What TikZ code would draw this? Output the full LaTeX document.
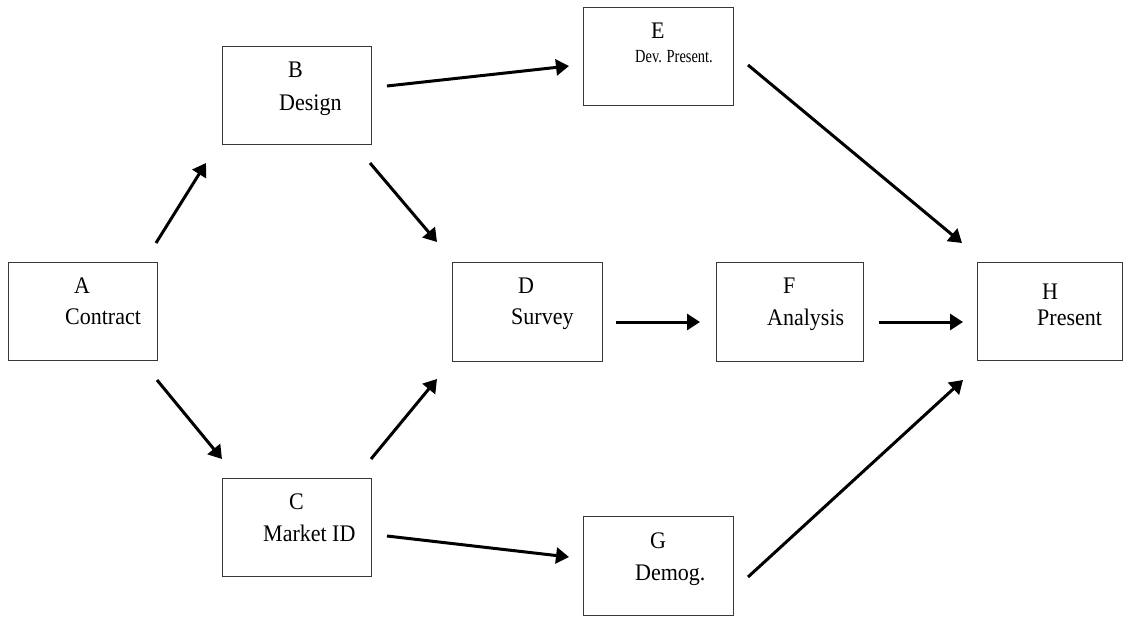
\documentclass[tikz,border=0pt]{standalone}
\usepackage{fontspec}
\setmainfont{Liberation Serif}
\usetikzlibrary{arrows.meta}
\begin{document}
\begin{tikzpicture}[x=1pt,y=-1pt,
  box/.style={draw=black!78, line width=1.4pt, fill=white, inner sep=0pt,
              anchor=north west, minimum width=149pt, minimum height=98pt},
  lbl/.style={inner sep=0pt, anchor=base west, font=\fontsize{22}{24}\selectfont},
  small/.style={inner sep=0pt, anchor=base west, font=\fontsize{18.5}{20}\selectfont},
  link/.style={line width=3pt, -{Triangle[length=13pt,width=16pt]}}
]
\useasboundingbox (0,0) rectangle (1123,616);

% activity boxes
\node[box] (A) at (8,262) {};
\node[box] (B) at (222,46) {};
\node[box] (C) at (222,478) {};
\node[box, minimum width=150pt, minimum height=99pt] (D) at (452,262) {};
\node[box, minimum width=150pt] (E) at (583,7) {};
\node[box, minimum width=147pt, minimum height=99pt] (F) at (716,262) {};
\node[box, minimum width=150pt, minimum height=99pt] (G) at (583,516) {};
\node[box, minimum width=145pt] (H) at (977,262) {};

% box texts
\newcommand{\tall}[1]{\scalebox{1}[1.08]{#1}}
\node[lbl] (Al) at (74,293) {\tall{A}};
\node[lbl] (An) at (65,324) {\tall{Contract}};
\node[lbl] (Bl) at (288,77) {\tall{B}};
\node[lbl] (Bn) at (279,110) {\tall{Design}};
\node[lbl] (Cl) at (289,509) {\tall{C}};
\node[lbl] (Cn) at (263,541) {\tall{Market ID}};
\node[lbl] (Dl) at (518,293) {\tall{D}};
\node[lbl] (Dn) at (511,324) {\tall{Survey}};
\node[lbl] (El) at (651,38) {\tall{E}};
\node[small] (En) at (635,62) {\scalebox{0.78}[1]{Dev. Present.}};
\node[lbl] (Fl) at (783,293) {\tall{F}};
\node[lbl] (Fn) at (767,325) {\tall{Analysis}};
\node[lbl] (Gl) at (650,548) {\tall{G}};
\node[lbl] (Gn) at (635,580) {\tall{Demog.}};
\node[lbl] (Hl) at (1042,299) {\tall{H}};
\node[lbl] (Hn) at (1037,325) {\tall{Present}};

% free-standing arrow ends
\coordinate (ab1) at (156,243);  \coordinate (ab2) at (206,163);
\coordinate (ac1) at (157,380);  \coordinate (ac2) at (222,459);
\coordinate (bd1) at (370,163);  \coordinate (bd2) at (437,242);
\coordinate (cd1) at (371,459);  \coordinate (cd2) at (437,379);
\coordinate (be1) at (387,86);   \coordinate (be2) at (569,66);
\coordinate (cg1) at (387,536);  \coordinate (cg2) at (569,557);
\coordinate (df1) at (616,322);  \coordinate (df2) at (700,322);
\coordinate (fh1) at (879,322);  \coordinate (fh2) at (963,322);
\coordinate (eh1) at (748,65);   \coordinate (eh2) at (962,243);
\coordinate (gh1) at (748,577);  \coordinate (gh2) at (963,380);

% precedence arrows
\draw[link] (ab1) -- (ab2);
\draw[link] (ac1) -- (ac2);
\draw[link] (bd1) -- (bd2);
\draw[link] (cd1) -- (cd2);
\draw[link] (be1) -- (be2);
\draw[link] (cg1) -- (cg2);
\draw[link] (df1) -- (df2);
\draw[link] (fh1) -- (fh2);
\draw[link] (eh1) -- (eh2);
\draw[link] (gh1) -- (gh2);
\end{tikzpicture}
\end{document}
